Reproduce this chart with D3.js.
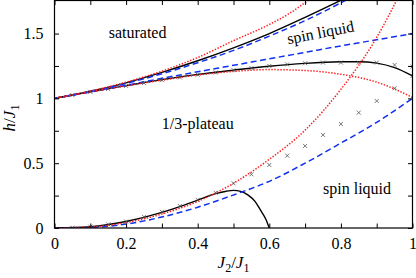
<!DOCTYPE html>
<html><head><meta charset="utf-8">
<script src="https://cdn.jsdelivr.net/npm/d3@7"></script>
<style>
body{margin:0;background:#fff}
svg{display:block}
svg text{font-family:"Liberation Serif","Tinos","Times New Roman","Nimbus Roman","DejaVu Serif",serif !important;fill:#000}
</style>
</head><body>
<svg id="c" width="416" height="278"></svg>
<script>
// ---- data ----
const xTicks = [0,0.1,0.2,0.3,0.4,0.5,0.6,0.7,0.8,0.9,1];
const xLabelTicks = [0,0.2,0.4,0.6,0.8,1];
const yTicks = [0,0.25,0.5,0.75,1,1.25,1.5];
const yLabelTicks = [0,0.5,1,1.5];
const xDomain = [0,1];
const yDomain = [0,1.755];

// upper branch (saturation field)
const satBlack = [[0,1],[0.1,1.055],[0.2,1.12],[0.3,1.2],[0.4,1.29],[0.5,1.39],[0.6,1.5],[0.7,1.625],[0.81,1.77]];
const satBlue  = [[0,1],[0.1,1.053],[0.2,1.115],[0.3,1.19],[0.4,1.275],[0.5,1.37],[0.6,1.48],[0.7,1.6],[0.83,1.78]];
const satRed   = [[0,1],[0.1,1.056],[0.2,1.125],[0.3,1.21],[0.4,1.315],[0.5,1.445],[0.6,1.57],[0.65,1.645],[0.72,1.78]];
// upper edge of plateau
const midBlack = [[0,1],[0.1,1.05],[0.2,1.098],[0.3,1.145],[0.4,1.185],[0.5,1.218],[0.6,1.248],[0.7,1.27],[0.8,1.282],[0.85,1.283],[0.9,1.272],[0.95,1.237],[1,1.173]];
const midBlue  = [[0,1],[0.1,1.05],[0.2,1.1],[0.3,1.155],[0.4,1.205],[0.5,1.255],[0.6,1.305],[0.7,1.355],[0.8,1.405],[0.9,1.452],[1,1.5]];
const midRed   = [[0,1],[0.1,1.05],[0.2,1.097],[0.3,1.14],[0.4,1.18],[0.5,1.208],[0.6,1.222],[0.7,1.215],[0.8,1.186],[0.9,1.125],[1,1.008]];
// lower edge of plateau
const lowBlack = [[0,0],[0.1,0.01],[0.2,0.05],[0.3,0.12],[0.35,0.165],[0.4,0.215],[0.45,0.265],[0.48,0.284],[0.5,0.29],[0.52,0.283],[0.54,0.255],[0.56,0.205],[0.575,0.14],[0.59,0.07],[0.6,0]];
const lowBlue  = [[0,0],[0.1,0.005],[0.2,0.03],[0.3,0.085],[0.4,0.16],[0.5,0.255],[0.6,0.36],[0.7,0.5],[0.8,0.655],[0.9,0.815],[1,1]];
const lowRed   = [[0,0],[0.1,0.008],[0.2,0.042],[0.3,0.108],[0.4,0.205],[0.5,0.345],[0.6,0.53],[0.7,0.755],[0.8,1.07],[0.9,1.47],[0.96,1.78]];
// numerical data (crosses)
const markerX      = [0.05,0.1,0.15,0.2,0.25,0.3,0.35,0.4,0.45,0.5,0.55,0.6,0.65,0.7,0.75,0.8,0.85,0.9,0.95,1];
const markerUpperH = [1.025,1.05,1.073,1.096,1.118,1.14,1.162,1.182,1.2,1.218,1.234,1.25,1.262,1.271,1.276,1.276,1.276,1.276,1.258,1.245];
const markerLowerH = [0.002,0.01,0.028,0.05,0.086,0.125,0.17,0.217,0.272,0.345,0.414,0.486,0.558,0.633,0.718,0.802,0.89,0.98,1.078,1.173];

const regionLabels = ["saturated","spin liquid","1/3-plateau","spin liquid"];

// ---- drawing ----
const svg = d3.select("#c");
svg.append("rect").attr("width",416).attr("height",278).attr("fill","#fff");
const L=54.5, R=412.5, T=0.5, B=228;
const x = d3.scaleLinear().domain(xDomain).range([L,R]);
const y = d3.scaleLinear().domain(yDomain).range([B,T]);

svg.append("clipPath").attr("id","clip").append("rect")
  .attr("x",L).attr("y",T).attr("width",R-L).attr("height",B-T);

const line = d3.line().x(d=>x(d[0])).y(d=>y(d[1])).curve(d3.curveMonotoneX);
const g = svg.append("g").attr("clip-path","url(#clip)");

const black = {stroke:"#000", w:1.4, dash:null};
const blue  = {stroke:"#1030f0", w:1.5, dash:"6,3.5"};
const red   = {stroke:"#ff1a1a", w:1.5, dash:"1.4,1.6"};
function draw(data, st){
  g.append("path").datum(data).attr("d",line).attr("fill","none")
    .attr("stroke",st.stroke).attr("stroke-width",st.w)
    .attr("stroke-dasharray",st.dash);
}
[satBlack, midBlack, lowBlack].forEach(d=>draw(d,black));
[satBlue, midBlue, lowBlue].forEach(d=>draw(d,blue));
[satRed, midRed, lowRed].forEach(d=>draw(d,red));

const cross = "M-2,-2L2,2M-2,2L2,-2";
const mk = markerX.map((v,i)=>[v,markerUpperH[i]]).concat(markerX.map((v,i)=>[v,markerLowerH[i]]));
g.selectAll("path.mk").data(mk).enter().append("path").attr("class","mk")
  .attr("d",cross).attr("transform",d=>`translate(${x(d[0])},${y(d[1])})`)
  .attr("stroke","#555").attr("stroke-width",0.8).attr("fill","none");

// axes
const fx = d => xLabelTicks.includes(d) ? String(d) : "";
const fy = d => yLabelTicks.includes(d) ? String(d) : "";
function style(sel){
  sel.attr("font-family",null).attr("font-size",null);
  sel.select(".domain").remove();
  sel.selectAll("line").attr("stroke","#000").attr("stroke-width",1);
  sel.selectAll("text").style("font-size","16px");
}
svg.append("g").attr("transform",`translate(0,${B})`)
  .call(d3.axisBottom(x).tickValues(xTicks).tickSize(-4.5).tickPadding(10).tickFormat(fx)).call(style);
svg.append("g").attr("transform",`translate(0,${T})`)
  .call(d3.axisTop(x).tickValues(xTicks).tickSize(-4.5).tickFormat("")).call(style);
svg.append("g").attr("transform",`translate(${L},0)`)
  .call(d3.axisLeft(y).tickValues(yTicks).tickSize(-4.5).tickPadding(11).tickFormat(fy)).call(style);
svg.append("g").attr("transform",`translate(${R},0)`)
  .call(d3.axisRight(y).tickValues(yTicks).tickSize(-4.5).tickFormat("")).call(style);

svg.append("rect").attr("x",L).attr("y",T).attr("width",R-L).attr("height",B-T)
  .attr("fill","none").attr("stroke","#000").attr("stroke-width",1.2);

// region labels
const lab = (t,px,py,rot)=>svg.append("text").attr("text-anchor","middle")
  .attr("transform",`translate(${px},${py}) rotate(${rot})`).style("font-size","16px").text(t);
lab(regionLabels[0], x(0.232), y(1.463), 0);
lab(regionLabels[1], x(0.746), y(1.467), -11);
lab(regionLabels[2], x(0.4), y(0.765), 0);
lab(regionLabels[3], x(0.845), y(0.261), 0);

// axis titles
const xt = svg.append("text").attr("text-anchor","middle").attr("x",(L+R)/2).attr("y",268).style("font-size","17px");
xt.append("tspan").style("font-style","italic").text("J");
xt.append("tspan").attr("dy",4).style("font-size","12px").text("2");
xt.append("tspan").attr("dy",-4).text("/");
xt.append("tspan").style("font-style","italic").text("J");
xt.append("tspan").attr("dy",4).style("font-size","12px").text("1");

const yt = svg.append("text").attr("text-anchor","middle").attr("transform","translate(15,118) rotate(-90)").style("font-size","17px");
yt.append("tspan").style("font-style","italic").text("h");
yt.append("tspan").text("/");
yt.append("tspan").style("font-style","italic").text("J");
yt.append("tspan").attr("dy",4).style("font-size","12px").text("1");
</script>
</body></html>
